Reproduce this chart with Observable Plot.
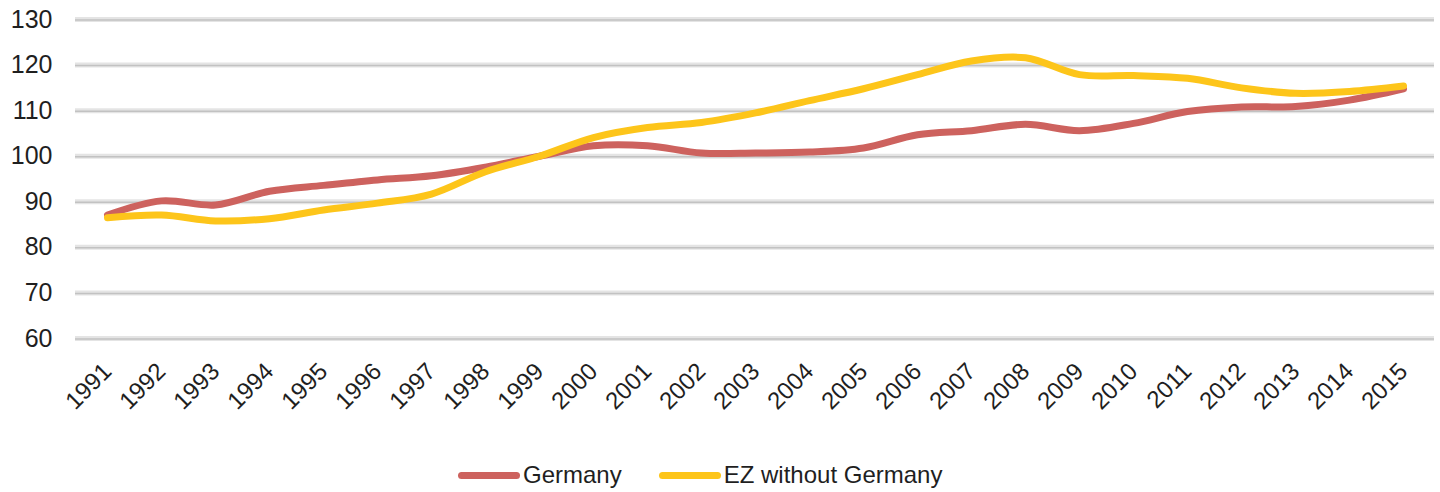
<!DOCTYPE html>
<html>
<head>
<meta charset="utf-8">
<script src="https://cdn.jsdelivr.net/npm/d3@7"></script>
<script src="https://cdn.jsdelivr.net/npm/@observablehq/plot@0.6"></script>
<style>
  html, body { margin: 0; padding: 0; background: #fff; }
  body { width: 1440px; height: 492px; overflow: hidden; font-family: "Liberation Sans", Arial, sans-serif; }
  #chart svg { display: block; }
  .legend { position: absolute; left: 458px; top: 461px; display: flex; align-items: center; font-size: 24px; color: #1f1f1f; line-height: 28px; }
  .legend .item { display: flex; align-items: center; }
  .legend .item + .item { margin-left: 37px; }
  .legend .sw { width: 62px; height: 7px; border-radius: 3.5px; margin-right: 3px; }
</style>
</head>
<body>
<div id="chart"></div>
<div class="legend">
  <div class="item"><span class="sw" style="background:#CD625E"></span><span>Germany</span></div>
  <div class="item"><span class="sw" style="background:#FDC51A"></span><span>EZ without Germany</span></div>
</div>
<script>
// Index, 1999 = 100
const years = [1991, 1992, 1993, 1994, 1995, 1996, 1997, 1998, 1999, 2000, 2001, 2002, 2003,
               2004, 2005, 2006, 2007, 2008, 2009, 2010, 2011, 2012, 2013, 2014, 2015];
const germany = [87.1, 90.2, 89.3, 92.3, 93.6, 94.8, 95.7, 97.6, 100, 102.3, 102.3, 100.7, 100.7,
                 100.9, 101.8, 104.7, 105.6, 107.0, 105.6, 107.2, 109.8, 110.8, 110.9, 112.3, 114.8];
const ezWithoutGermany = [86.5, 87.1, 85.8, 86.3, 88.2, 89.7, 91.7, 96.6, 100, 104.1, 106.3, 107.4, 109.5,
                          112.2, 114.8, 117.9, 120.9, 121.6, 117.9, 117.7, 117.1, 115.0, 113.8, 114.2, 115.4];
const yTicks = [60, 70, 80, 90, 100, 110, 120, 130];

const seriesNames = ["Germany", "EZ without Germany"];
const colors = ["#CD625E", "#FDC51A"];

const rows = [
  ...years.map((year, i) => ({year: String(year), value: germany[i], series: seriesNames[0]})),
  ...years.map((year, i) => ({year: String(year), value: ezWithoutGermany[i], series: seriesNames[1]}))
];

const chart = Plot.plot({
  width: 1440,
  height: 440,
  marginTop: 19,
  marginBottom: 102,
  marginLeft: 75,
  marginRight: 6,
  style: {fontFamily: "Liberation Sans, Arial, sans-serif", color: "#1f1f1f", background: "#fff"},
  x: {type: "point", domain: years.map(String), padding: 0.5, label: null},
  y: {domain: [60, 130], label: null},
  color: {domain: seriesNames, range: colors},
  marks: [
    // soft double-edged gridlines
    Plot.ruleY(yTicks, {stroke: "#e4e4e4", strokeWidth: 5}),
    Plot.ruleY(yTicks, {stroke: "#c2c2c2", strokeWidth: 1.5, dy: 0.5}),
    Plot.axisY(yTicks, {tickSize: 0, tickPadding: 23, fontSize: 25, fill: "#1f1f1f"}),
    Plot.axisX({tickSize: 0, tickPadding: 29, tickRotate: -45, fontSize: 24, fill: "#1f1f1f"}),
    Plot.line(rows, {x: "year", y: "value", z: "series", stroke: "series", strokeWidth: 7,
                     curve: "catmull-rom", strokeLinecap: "round", strokeLinejoin: "round"})
  ]
});
document.getElementById("chart").appendChild(chart);
</script>
</body>
</html>
